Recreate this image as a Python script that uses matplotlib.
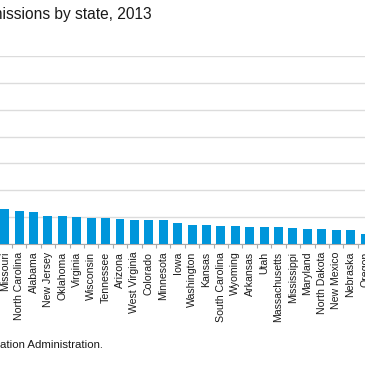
import matplotlib
matplotlib.use("Agg")
import matplotlib.pyplot as plt
import numpy as np

# states visible in the crop, in chart order (million metric tons CO2)
states = ["Missouri", "North Carolina", "Alabama", "New Jersey", "Oklahoma",
          "Virginia", "Wisconsin", "Tennessee", "Arizona", "West Virginia",
          "Colorado", "Minnesota", "Iowa", "Washington", "Kansas",
          "South Carolina", "Wyoming", "Arkansas", "Utah", "Massachusetts",
          "Mississippi", "Maryland", "North Dakota", "New Mexico", "Nebraska",
          "Oregon"]
emissions = [129, 123, 119, 103, 103, 100, 98, 98, 94, 90,
             90, 88, 78, 72, 72, 68, 68, 64, 64, 64,
             59, 56, 56, 52, 52, 36]

title = "Energy-related carbon dioxide emissions by state, 2013"
source = "Source: U.S. Energy Information Administration."

plt.rcParams['font.family'] = ['Liberation Sans', 'DejaVu Sans']

W = 365
fig = plt.figure(figsize=(3.65, 3.65), dpi=100)
# axes runs past the left edge, the picture is a crop of a wider chart
ax = fig.add_axes([0, 121 / W, 1, 188 / W])

x = np.arange(len(states))
ax.bar(x, emissions, width=0.62, color="#0096db", zorder=3)

step = 14.49
ax.set_xlim(-4.7 / step, (W - 4.7) / step)
ax.set_ylim(0, 700)
ax.set_yticks(np.arange(0, 701, 100))
ax.yaxis.grid(True, color="#dcdcdc", linewidth=1.0, zorder=0)
ax.tick_params(axis="y", left=False, labelleft=False)

ax.set_xticks(x)
ax.set_xticklabels(states, rotation=90, fontsize=7.6, color="#1a1a1a")
ax.tick_params(axis="x", which="major", length=0, pad=5.5)
ax.set_xticks(x[:-1] + 0.5, minor=True)
ax.tick_params(axis="x", which="minor", length=3, width=0.8, color="#aaaaaa")

for s in ["top", "left", "right"]:
    ax.spines[s].set_visible(False)
ax.spines["bottom"].set_color("#aaaaaa")
ax.spines["bottom"].set_linewidth(0.8)

fig.text(152 / W, 1 - 15 / W, title, ha="right", va="center",
         fontsize=11.2, color="#1a1a1a")
fig.text(103 / W, 1 - 345 / W, source, ha="right", va="center",
         fontsize=8.2, color="#1a1a1a")

fig.savefig("out.png", dpi=100)
